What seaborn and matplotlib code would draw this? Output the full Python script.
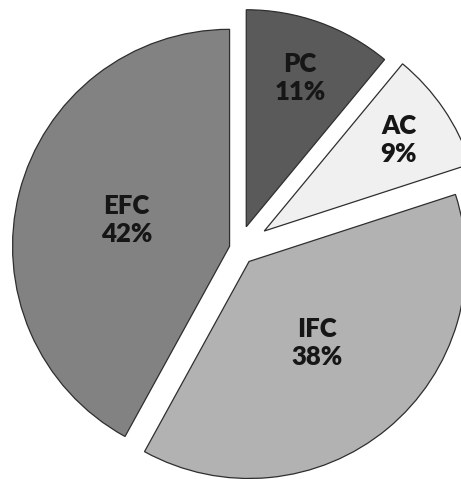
import matplotlib
matplotlib.use("Agg")
import matplotlib.pyplot as plt
import numpy as np
import seaborn as sns

# Share of each component (percent), clockwise from 12 o'clock
categories = ["PC", "AC", "IFC", "EFC"]
shares = [11, 9, 38, 42]

# Styling per slice
slice_colors = ["#5a5a5a", "#f0f0f0", "#b2b2b2", "#828282"]
explode = [0.107, 0.144, 0.077, 0.042]
label_dist = [0.73, 0.75, 0.49, 0.49]

sns.set_theme(style="white")
plt.rcParams["font.family"] = ["Lato", "DejaVu Sans"]

W, H, DPI = 461, 479, 100
fig = plt.figure(figsize=(W / DPI, H / DPI), dpi=DPI)
ax = fig.add_axes([0, 0, 1, 1])

wedges, _ = ax.pie(
    shares,
    colors=slice_colors,
    explode=explode,
    startangle=90,
    counterclock=False,
    radius=1.0,
    wedgeprops=dict(edgecolor="#2e2e2e", linewidth=0.9),
)

# Labels sit along each wedge's bisector, measured from its own apex
for w, name, pct, d in zip(wedges, categories, shares, label_dist):
    mid = np.deg2rad((w.theta1 + w.theta2) / 2)
    cx, cy = w.center
    x = cx + d * w.r * np.cos(mid)
    y = cy + d * w.r * np.sin(mid)
    ax.text(x, y, f"{name}\n{pct}%", ha="center", va="center",
            fontsize=18.5, fontweight="heavy", color="#161616",
            linespacing=1.2)

# Pie radius spans about 217 px; centre sits left of and just above mid-frame
scale = 217.0
px_cx, px_cy = 238.4, 248.6
ax.set_xlim(-px_cx / scale, (W - px_cx) / scale)
ax.set_ylim(-(H - px_cy) / scale, px_cy / scale)
ax.set_aspect("auto")
ax.axis("off")

fig.savefig("out.png", dpi=DPI, facecolor="white")
